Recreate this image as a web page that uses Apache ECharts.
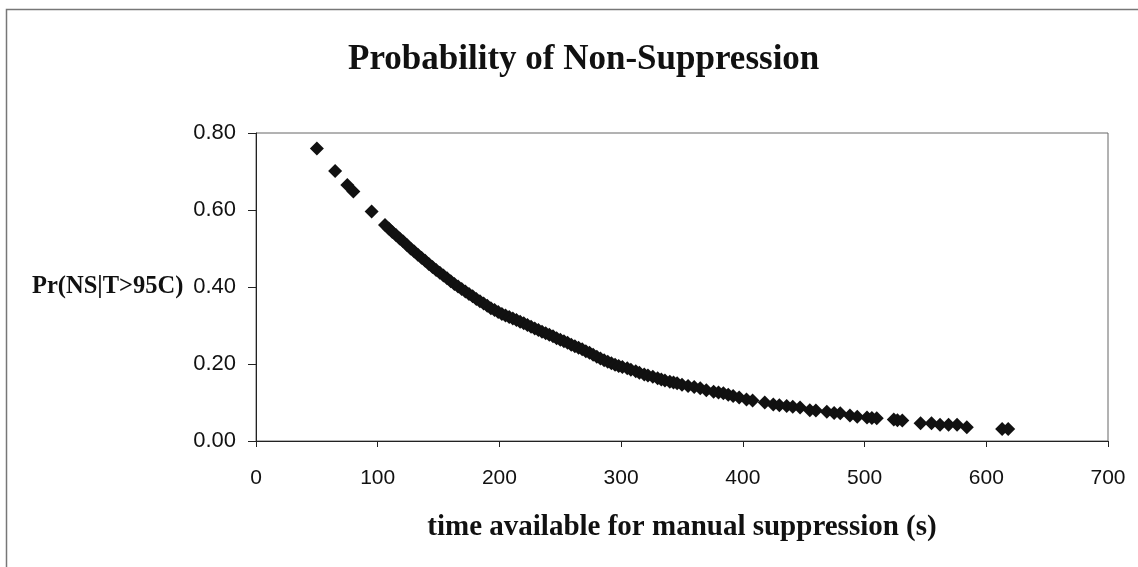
<!DOCTYPE html>
<html>
<head>
<meta charset="utf-8">
<title>Probability of Non-Suppression</title>
<script src="https://cdn.jsdelivr.net/npm/echarts@6/dist/echarts.min.js"></script>
<style>
  html, body { margin: 0; padding: 0; background: #ffffff; }
  #chart { width: 1138px; height: 567px; }
</style>
</head>
<body>
<div id="chart"></div>
<script>
// Time available for manual suppression (s)
const timeSeconds = [
  50, 65, 75, 80, 95,
  106, 109, 112, 115, 118, 121, 124, 127, 130, 133, 136, 139, 142, 145, 148,
  151, 154, 157, 160, 163, 166, 169, 172, 175, 178, 181, 184, 187, 190, 193,
  196, 199, 202, 205, 208, 211, 214, 217, 220, 223, 226, 229, 232, 235, 238,
  241, 244, 247, 250, 253, 256, 259, 262, 265, 268, 271, 274, 277, 280, 283,
  286, 289, 292, 295, 298, 301, 305, 308, 312, 315, 319, 322, 326, 330, 333,
  336, 340, 343, 346, 350, 355, 360, 365, 370, 376, 380, 384, 388, 392, 397,
  403, 408, 418, 425, 430, 436, 441, 447, 455, 460, 469, 475, 480, 488, 494,
  502, 506, 510, 524, 527, 531, 546, 555, 562, 569, 576, 584, 613, 618
];

// Pr(NS | T > 95C) for each time value
const probNonSuppression = [
  0.760, 0.701, 0.665, 0.648, 0.596,
  0.561, 0.552, 0.543, 0.535, 0.526, 0.518, 0.509, 0.500, 0.492, 0.484, 0.476, 0.468, 0.460, 0.452, 0.444,
  0.437, 0.430, 0.423, 0.415, 0.408, 0.401, 0.395, 0.388, 0.382, 0.376, 0.369, 0.363, 0.357, 0.351, 0.345,
  0.340, 0.335, 0.330, 0.326, 0.322, 0.318, 0.314, 0.310, 0.306, 0.301, 0.297, 0.292, 0.288, 0.284, 0.280,
  0.276, 0.272, 0.267, 0.263, 0.259, 0.255, 0.250, 0.246, 0.242, 0.238, 0.233, 0.229, 0.224, 0.219, 0.214,
  0.210, 0.206, 0.202, 0.198, 0.195, 0.192, 0.189, 0.185, 0.181, 0.177, 0.173, 0.170, 0.167, 0.163, 0.160,
  0.157, 0.154, 0.152, 0.150, 0.146, 0.143, 0.140, 0.137, 0.132, 0.128, 0.126, 0.124, 0.120, 0.117, 0.113,
  0.108, 0.105, 0.100, 0.095, 0.093, 0.091, 0.089, 0.087, 0.080, 0.079, 0.076, 0.073, 0.072, 0.066, 0.063,
  0.061, 0.060, 0.059, 0.056, 0.054, 0.053, 0.046, 0.046, 0.042, 0.042, 0.042, 0.0355, 0.031, 0.031
];

const xTicks = { min: 0, max: 700, interval: 100 };
const yTicks = { min: 0, max: 0.8, interval: 0.2 };

const chartTitle = 'Probability of Non-Suppression';
const xAxisTitle = 'time available for manual suppression (s)';
const yAxisTitle = 'Pr(NS|T>95C)';

const points = timeSeconds.map((t, i) => [t, probNonSuppression[i]]);

const serif = '"Liberation Serif", "Times New Roman", serif';
const sans = '"Liberation Sans", Arial, sans-serif';

const chart = echarts.init(document.getElementById('chart'), null, { renderer: 'canvas' });

chart.setOption({
  backgroundColor: '#ffffff',
  animation: false,
  title: {
    text: chartTitle,
    left: 343,
    top: 37,
    textStyle: { fontFamily: serif, fontWeight: 'bold', fontSize: 35, color: '#111111' }
  },
  grid: {
    left: 256, right: 30, top: 133, bottom: 126,
    show: true, borderColor: '#666666', borderWidth: 1, backgroundColor: '#ffffff'
  },
  xAxis: {
    type: 'value',
    min: xTicks.min, max: xTicks.max, interval: xTicks.interval,
    name: xAxisTitle,
    nameLocation: 'middle',
    nameGap: 72,
    nameTextStyle: { fontFamily: serif, fontWeight: 'bold', fontSize: 29, color: '#111111' },
    axisLine: { show: true, onZero: false, lineStyle: { color: '#222222', width: 1 } },
    axisTick: { show: true, inside: false, length: 6, lineStyle: { color: '#222222' } },
    axisLabel: { margin: 27, fontFamily: sans, fontSize: 21, color: '#111111' },
    splitLine: { show: false }
  },
  yAxis: {
    type: 'value',
    min: yTicks.min, max: yTicks.max, interval: yTicks.interval,
    axisLine: { show: true, lineStyle: { color: '#222222', width: 1 } },
    axisTick: { show: true, inside: false, length: 8, lineStyle: { color: '#222222' } },
    axisLabel: {
      margin: 20, fontFamily: sans, fontSize: 22, color: '#111111',
      formatter: v => v.toFixed(2)
    },
    splitLine: { show: false }
  },
  graphic: [
    {
      type: 'rect',
      left: 4, top: 7, z: -10, silent: true,
      shape: { width: 1200, height: 600 },
      style: { fill: 'none', stroke: '#777777', lineWidth: 1.5 }
    },
    {
      type: 'text',
      left: 32, top: 274,
      style: {
        text: yAxisTitle,
        font: 'bold 24.5px ' + serif,
        fill: '#111111'
      }
    }
  ],
  series: [
    {
      type: 'scatter',
      data: points,
      symbol: 'diamond',
      symbolSize: 14,
      itemStyle: { color: '#111111', opacity: 1 }
    }
  ]
});
</script>
</body>
</html>
